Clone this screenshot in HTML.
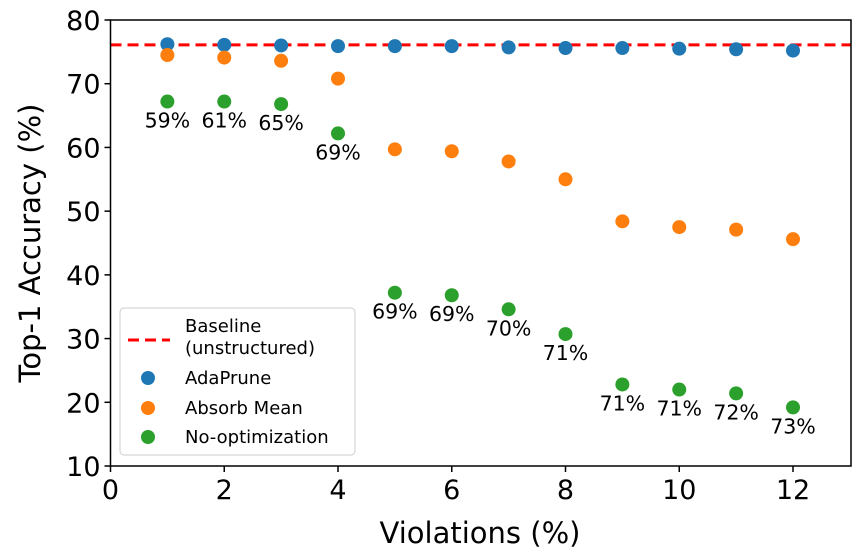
<!DOCTYPE html>
<html><head><meta charset="utf-8"><style>body{margin:0;background:#fff}svg{display:block;font-family:"DejaVu Sans","Liberation Sans",sans-serif}</style></head>
<body>
<svg id="chart" width="858" height="555">
<g id="plot"></g>
</svg>
<script>
const violations=[1,2,3,4,5,6,7,8,9,10,11,12];
const adaPrune=[76.2,76.1,76.0,75.9,75.9,75.9,75.7,75.6,75.6,75.5,75.4,75.2];
const absorbMean=[74.5,74.1,73.6,70.8,59.7,59.4,57.8,55.0,48.4,47.5,47.1,45.6];
const noOpt=[67.2,67.2,66.8,62.2,37.2,36.8,34.6,30.7,22.8,22.0,21.4,19.2];
const noOptLabels=["59%","61%","65%","69%","69%","69%","70%","71%","71%","71%","72%","73%"];
const baseline=76.1;
const xTicks=[0,2,4,6,8,10,12];
const yTicks=[10,20,30,40,50,60,70,80];
const L=110.5,R=851,T=20,B=466;
const xs=v=>L+v*(793-L)/12;
const ys=v=>B-(v-10)*(B-T)/70;
const NS='http://www.w3.org/2000/svg';
const g=document.getElementById('plot');
function mk(tag,attrs,parent){const e=document.createElementNS(NS,tag);for(const k in attrs)e.setAttribute(k,attrs[k]);(parent||g).appendChild(e);return e;}
let e;
e=mk('line',{x1:L,x2:R,y1:ys(baseline),y2:ys(baseline),stroke:'#f00','stroke-width':3,'stroke-dasharray':'11,6'});


function series(vals,color,name){vals.forEach((v,i)=>{const c=mk('circle',{cx:xs(violations[i]),cy:ys(v),r:7,fill:color});

});}
series(adaPrune,'#1f77b4','adaprune');
series(absorbMean,'#ff7f0e','absorb-mean');
series(noOpt,'#2ca02c','no-optimization');
noOpt.forEach((v,i)=>{const t=mk('text',{x:xs(violations[i]),y:ys(v)+26,'text-anchor':'middle','font-size':20.5});t.textContent=noOptLabels[i];

});
e=mk('rect',{x:L,y:T,width:R-L,height:B-T,fill:'none',stroke:'#000','stroke-width':1.5});


xTicks.forEach(v=>{mk('line',{x1:xs(v),x2:xs(v),y1:B,y2:B+6,stroke:'#000','stroke-width':1.5});
const t=mk('text',{x:xs(v),y:B+33,'text-anchor':'middle','font-size':27});t.textContent=v;

});
yTicks.forEach(v=>{mk('line',{x1:L-6,x2:L,y1:ys(v),y2:ys(v),stroke:'#000','stroke-width':1.5});
const t=mk('text',{x:L-10,y:ys(v)+10,'text-anchor':'end','font-size':27});t.textContent=v;

});
e=mk('text',{x:480,y:543,'text-anchor':'middle','font-size':29});e.textContent='Violations (%)';


e=mk('text',{x:0,y:0,'text-anchor':'middle','font-size':29,transform:'translate(40,243) rotate(-90)'});e.textContent='Top-1 Accuracy (%)';


const lg=mk('g',{});


mk('rect',{x:120,y:308,width:235,height:147,rx:4,fill:'#fff','fill-opacity':0.8,stroke:'#ccc'},lg);
mk('line',{x1:128,x2:170,y1:340,y2:340,stroke:'#f00','stroke-width':3,'stroke-dasharray':'11,6'},lg);
[['Baseline',185,332],[' (unstructured)',185,354],['AdaPrune',185,384],['Absorb Mean',185,414],['No-optimization',185,443]].forEach(a=>{const t=mk('text',{x:a[1],y:a[2],'font-size':18,'xml:space':'preserve'},lg);t.textContent=a[0];

});
[['#1f77b4',378],['#ff7f0e',408],['#2ca02c',437]].forEach(a=>mk('circle',{cx:148,cy:a[1],r:7,fill:a[0]},lg));
</script>
</body></html>
